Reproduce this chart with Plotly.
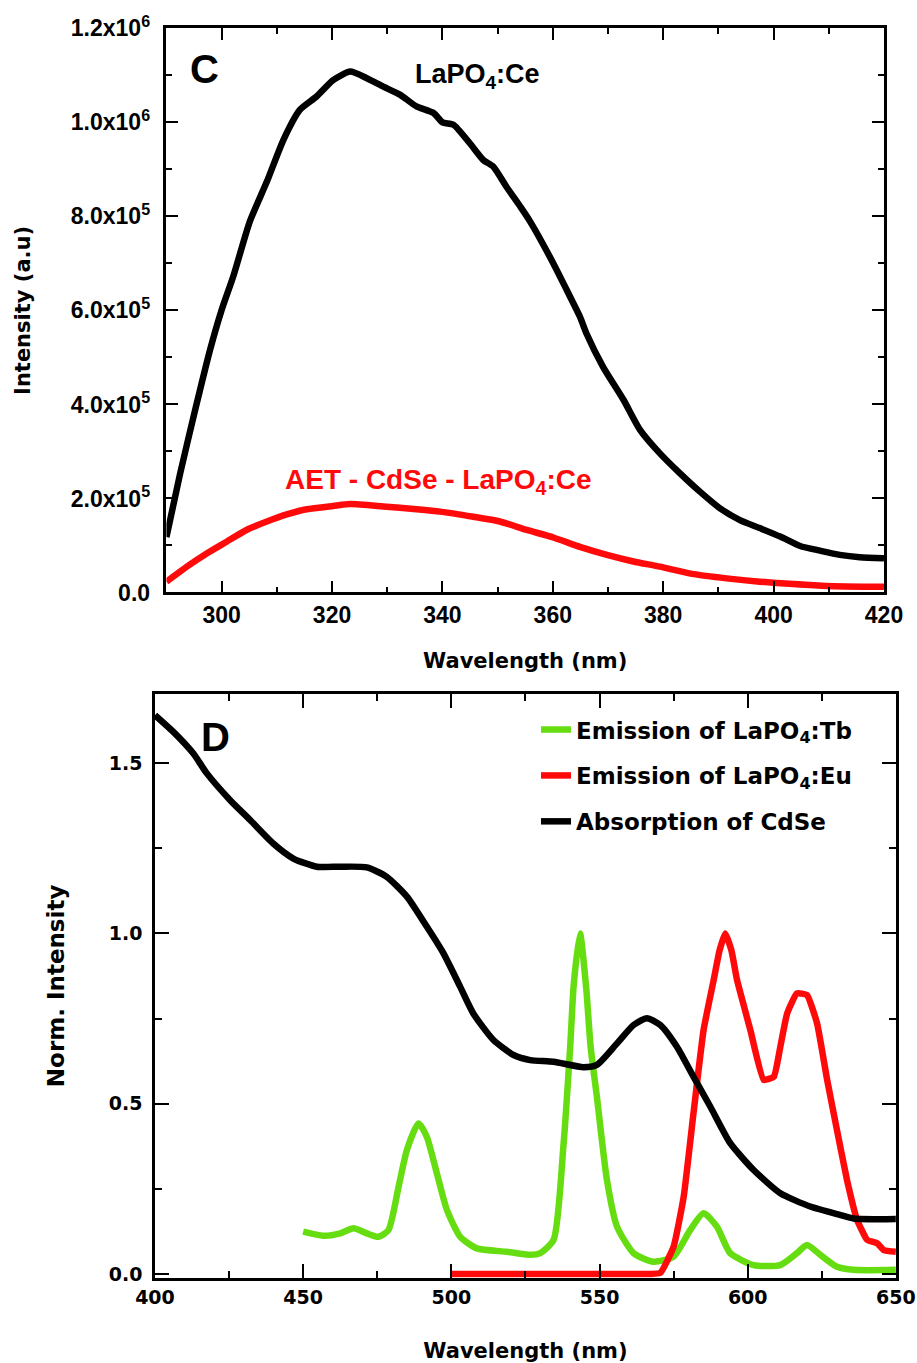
import plotly.graph_objects as go

# ---------------- Panel C data ----------------
wl_ce = [290, 292.5, 295.2, 297.9, 300, 302.1, 305.1, 308.2, 311.2, 314.2, 317.2, 320.2,
         323.3, 326.3, 329.3, 332.3, 335.3, 338.4, 340, 342, 345, 347.4, 349.2, 351.6,
         354.1, 355.9, 360.1, 362.5, 364.9, 366.1, 369.1, 372.8, 375.8, 379.4, 383.0,
         386.7, 390.3, 393.9, 397.5, 401.2, 404.8, 408.4, 412.0, 415.6, 420]
int_ce = [1.18e5, 2.54e5, 3.88e5, 5.16e5, 6.01e5, 6.72e5, 7.89e5, 8.74e5, 9.63e5, 1.027e6,
          1.055e6, 1.090e6, 1.108e6, 1.094e6, 1.076e6, 1.059e6, 1.034e6, 1.020e6, 1.0e6,
          9.95e5, 9.55e5, 9.2e5, 9.06e5, 8.63e5, 8.21e5, 7.89e5, 7.0e5, 6.44e5, 5.87e5,
          5.51e5, 4.80e5, 4.10e5, 3.46e5, 2.96e5, 2.54e5, 2.14e5, 1.79e5, 1.54e5, 1.37e5,
          1.19e5, 9.9e4, 8.9e4, 8.0e4, 7.5e4, 7.3e4]

wl_aet = [290, 293.7, 297.3, 300.9, 304.5, 308.2, 311.8, 315.4, 320.2, 323.3, 329.3, 335.3,
          339.6, 345.6, 350.4, 355.3, 360.1, 364.9, 369.8, 374.6, 379.4, 385.5, 391.5,
          397.5, 403.6, 409.6, 420]
int_aet = [2.3e4, 5.5e4, 8.3e4, 1.08e5, 1.33e5, 1.51e5, 1.66e5, 1.77e5, 1.84e5, 1.88e5,
           1.83e5, 1.77e5, 1.72e5, 1.61e5, 1.51e5, 1.33e5, 1.17e5, 9.7e4, 8.0e4, 6.6e4,
           5.5e4, 3.9e4, 3.0e4, 2.3e4, 1.8e4, 1.4e4, 1.2e4]

c_ytickvals = [0, 2e5, 4e5, 6e5, 8e5, 1.0e6, 1.2e6]
c_yticktext = ["0.0", "2.0x10<sup>5</sup>", "4.0x10<sup>5</sup>", "6.0x10<sup>5</sup>",
               "8.0x10<sup>5</sup>", "1.0x10<sup>6</sup>", "1.2x10<sup>6</sup>"]

# ---------------- Panel D data ----------------
wl_abs = [400, 406.2, 412.9, 417.5, 425.3, 432.1, 439.9, 446.7, 454.6, 462.5, 471.5, 478.2,
          485.0, 491.7, 497.3, 503.0, 507.4, 514.2, 521.0, 526.6, 534.5, 544.6, 549.1,
          555.9, 561.5, 566.0, 570.5, 576.1, 581.7, 587.4, 594.1, 602.0, 611.0, 621.1,
          631.3, 635.7, 650]
abs_cdse = [1.641, 1.592, 1.529, 1.470, 1.392, 1.333, 1.264, 1.220, 1.196, 1.196, 1.194,
            1.166, 1.108, 1.020, 0.942, 0.843, 0.765, 0.687, 0.643, 0.628, 0.623, 0.607,
            0.614, 0.677, 0.731, 0.751, 0.731, 0.667, 0.579, 0.491, 0.384, 0.305, 0.237,
            0.198, 0.173, 0.163, 0.161]

wl_tb = [450, 456.8, 462.5, 467.0, 471.5, 475.4, 478.8, 482.2, 485.0, 488.9, 491.7, 495.1,
         498.5, 503.0, 508.6, 518.7, 526.6, 530.0, 534.5, 537.8, 540.1, 541.3, 543.4,
         545.5, 547.0, 549.1, 552.5, 555.9, 561.5, 568.2, 575.0, 580.6, 585.1, 589.6,
         594.1, 602.0, 611.0, 616.6, 620.0, 624.5, 630.1, 635.7, 650]
em_tb = [0.124, 0.112, 0.119, 0.134, 0.119, 0.109, 0.129, 0.256, 0.364, 0.442, 0.403, 0.296,
         0.188, 0.109, 0.075, 0.065, 0.056, 0.061, 0.100, 0.374, 0.667, 0.85, 1.000, 0.84,
         0.667, 0.521, 0.276, 0.139, 0.061, 0.036, 0.051, 0.129, 0.178, 0.139, 0.061,
         0.026, 0.026, 0.061, 0.085, 0.056, 0.021, 0.012, 0.012]

wl_eu = [500, 520, 540, 560, 567, 570.5, 575.0, 578.4, 581.7, 585.1, 588.5, 590.5, 592.4,
         594.5, 596.4, 600.9, 605.4, 608.8, 611.0, 613.3, 616.6, 620.0, 623.4, 626.8,
         630.1, 633.5, 636.9, 640.3, 643.7, 645.9, 650]
em_eu = [0.0, 0.0, 0.0, 0.0, 0.0, 0.003, 0.08, 0.227, 0.472, 0.716, 0.863, 0.95, 1.0, 0.95,
         0.863, 0.716, 0.570, 0.579, 0.667, 0.765, 0.824, 0.819, 0.736, 0.570, 0.423, 0.276,
         0.159, 0.100, 0.090, 0.070, 0.065]

d_ytickvals = [0, 0.5, 1.0, 1.5]
d_yticktext = ["0.0", "0.5", "1.0", "1.5"]

RED = "#ff0a0a"
GREEN = "#66dd11"
ARIAL = "Liberation Sans"
WIDE = "DejaVu Sans"
LW = 6.5

fig = go.Figure()

# Panel C traces
fig.add_trace(go.Scatter(x=wl_ce, y=int_ce, mode="lines",
                         line=dict(color="black", width=LW, shape="spline", smoothing=0.6),
                         xaxis="x", yaxis="y", showlegend=False, name="LaPO4:Ce"))
fig.add_trace(go.Scatter(x=wl_aet, y=int_aet, mode="lines",
                         line=dict(color=RED, width=LW, shape="spline", smoothing=0.6),
                         xaxis="x", yaxis="y", showlegend=False, name="AET - CdSe - LaPO4:Ce"))

# Panel D traces
fig.add_trace(go.Scatter(x=wl_tb, y=em_tb, mode="lines",
                         line=dict(color=GREEN, width=LW, shape="spline", smoothing=0.6),
                         xaxis="x2", yaxis="y2", name="Emission of LaPO<sub>4</sub>:Tb",
                         legendgroup="a"))
fig.add_trace(go.Scatter(x=wl_eu, y=em_eu, mode="lines",
                         line=dict(color=RED, width=LW, shape="spline", smoothing=0.4),
                         xaxis="x2", yaxis="y2", name="Emission of LaPO<sub>4</sub>:Eu",
                         legendgroup="b"))
fig.add_trace(go.Scatter(x=wl_abs, y=abs_cdse, mode="lines",
                         line=dict(color="black", width=LW, shape="spline", smoothing=0.6),
                         xaxis="x2", yaxis="y2", name="Absorption of CdSe",
                         legendgroup="c"))

axis_common = dict(showline=True, linecolor="black", linewidth=2.5, mirror="ticks",
                   ticks="inside", tickcolor="black", tickwidth=2, showgrid=False,
                   zeroline=False, automargin=False)

fig.update_layout(
    width=917, height=1363,
    margin=dict(l=0, r=0, t=0, b=0),
    paper_bgcolor="white", plot_bgcolor="white",
    font=dict(family=ARIAL, color="black"),
    xaxis=dict(axis_common, domain=[0.1815, 0.9640], range=[290, 420], tickmode="linear",
               tick0=300, dtick=20, ticklen=12,
               minor=dict(tickmode="linear", tick0=290, dtick=10, ticklen=6, tickwidth=2,
                          ticks="inside", tickcolor="black"),
               tickfont=dict(family=ARIAL, size=23, weight="bold"), ticklabelstandoff=0,
               title=dict(text="Wavelength (nm)", standoff=27,
                          font=dict(family=WIDE, size=21, weight="bold")),
               anchor="y"),
    yaxis=dict(axis_common, domain=[0.5653, 0.9792], range=[0, 1.2e6], tickmode="array",
               tickvals=c_ytickvals, ticktext=c_yticktext, ticklen=12,
               minor=dict(tickmode="linear", tick0=0, dtick=1e5, ticklen=6, tickwidth=2,
                          ticks="inside", tickcolor="black"),
               tickfont=dict(family=ARIAL, size=23, weight="bold"), ticklabelstandoff=9,
               title=dict(text="Intensity (a.u)", standoff=35,
                          font=dict(family=WIDE, size=21, weight="bold")),
               anchor="x"),
    xaxis2=dict(axis_common, domain=[0.169, 0.977], range=[400, 650], tickmode="linear",
                tick0=400, dtick=50, ticklen=14,
                minor=dict(tickmode="linear", tick0=400, dtick=25, ticklen=7, tickwidth=2,
                           ticks="inside", tickcolor="black"),
                tickfont=dict(family=WIDE, size=19, weight="bold"), ticklabelstandoff=1,
                title=dict(text="Wavelength (nm)", standoff=37,
                           font=dict(family=WIDE, size=21, weight="bold")),
                anchor="y2"),
    yaxis2=dict(axis_common, domain=[0.0626, 0.4908], range=[-0.011, 1.703], tickmode="array",
                tickvals=d_ytickvals, ticktext=d_yticktext, ticklen=14,
                minor=dict(tickmode="linear", tick0=0, dtick=0.25, ticklen=7, tickwidth=2,
                           ticks="inside", tickcolor="black"),
                tickfont=dict(family=WIDE, size=19, weight="bold"), ticklabelstandoff=6,
                title=dict(text="Norm. Intensity", standoff=38,
                           font=dict(family=WIDE, size=23, weight="bold")),
                anchor="x2"),
    legend=dict(x=0.5845, y=0.4805, xanchor="left", yanchor="top", xref="paper", yref="paper",
                bgcolor="rgba(0,0,0,0)", borderwidth=0, tracegroupgap=13,
                font=dict(family=WIDE, size=23, weight="bold", color="black"),
                traceorder="grouped"),
    annotations=[
        dict(text="C", x=296.9, y=1.114e6, xref="x", yref="y", showarrow=False,
             font=dict(family=ARIAL, size=40, weight="bold", color="black")),
        dict(text="LaPO<sub>4</sub>:Ce", x=346.4, y=1.099e6, xref="x", yref="y",
             showarrow=False, font=dict(family=ARIAL, size=27, weight="bold", color="black")),
        dict(text="AET - CdSe - LaPO<sub>4</sub>:Ce", x=339.2, y=2.37e5, xref="x", yref="y",
             showarrow=False, font=dict(family=ARIAL, size=28, weight="bold", color=RED)),
        dict(text="D", x=420.3, y=1.577, xref="x2", yref="y2", showarrow=False,
             font=dict(family=ARIAL, size=40, weight="bold", color="black")),
    ],
)

fig.write_html("out.html")
